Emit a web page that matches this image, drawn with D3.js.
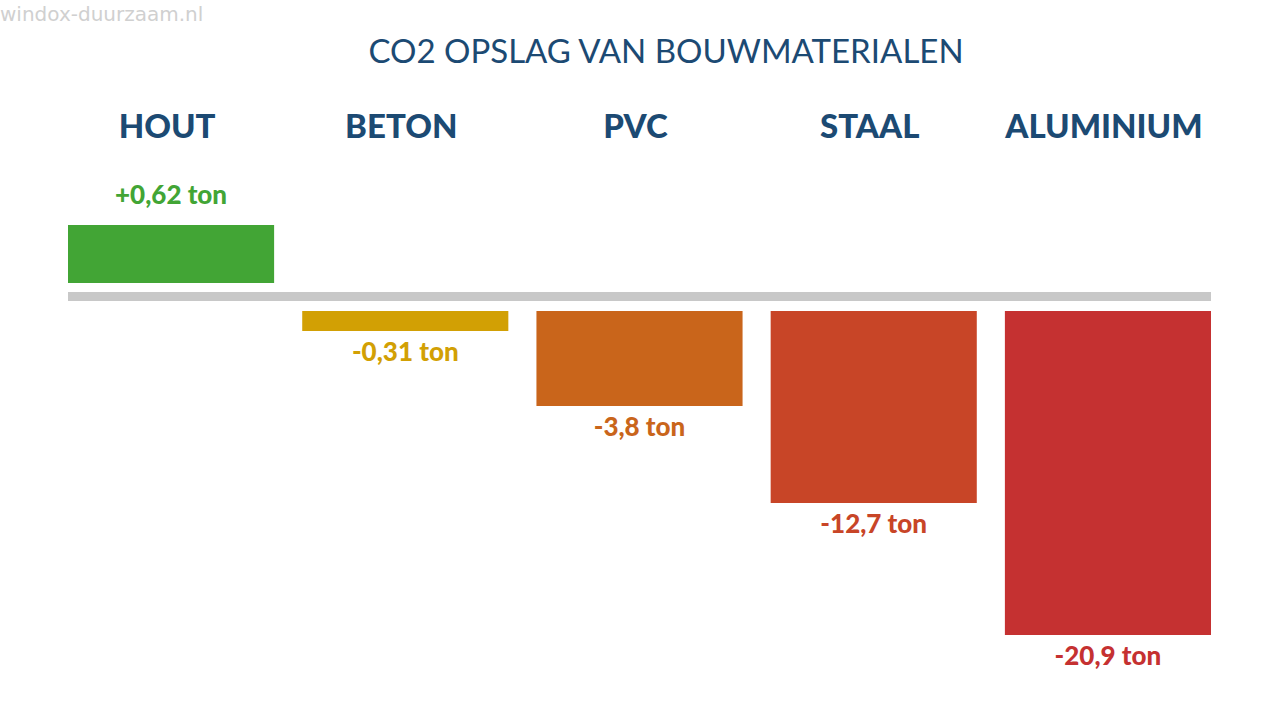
<!DOCTYPE html>
<html>
<head>
<meta charset="utf-8">
<script src="https://cdn.jsdelivr.net/npm/d3@7"></script>
<style>
  html, body { margin: 0; padding: 0; background: #fff; }
  svg { display: block; }
</style>
</head>
<body>
<svg id="chart" width="1280" height="720"></svg>
<script>
const categories = ["HOUT", "BETON", "PVC", "STAAL", "ALUMINIUM"];
const values = [0.62, -0.31, -3.8, -12.7, -20.9];
const valueLabels = ["+0,62 ton", "-0,31 ton", "-3,8 ton", "-12,7 ton", "-20,9 ton"];
const colors = ["#42a535", "#d2a004", "#c9651b", "#c84527", "#c53131"];
const title = "CO2 OPSLAG VAN BOUWMATERIALEN";
const watermark = "windox-duurzaam.nl";

const svg = d3.select("#chart");
const navy = "#1c4a73";

// Infographic uses a non-proportional (piecewise) magnitude scale
const mag = d3.scaleLinear()
  .domain([0, 0.31, 0.62, 3.8, 12.7, 20.9])
  .range([0, 20, 58, 95, 192, 324]);

const x = d3.scaleBand()
  .domain(categories)
  .range([68, 1211])
  .paddingInner(0.12)
  .paddingOuter(0);

const axisTop = 292, axisH = 9;
const posBase = 283, negBase = 311;

svg.append("text")
  .attr("x", 0).attr("y", 21)
  .attr("font-family", "DejaVu Sans, sans-serif")
  .attr("font-size", 20)
  .attr("fill", "#d0d0d0")
  .text(watermark);

svg.append("text")
  .attr("x", 666).attr("y", 63)
  .attr("text-anchor", "middle")
  .attr("font-family", "Lato, sans-serif")
  .attr("font-size", 33)
  .attr("fill", navy)
  .text(title);

svg.selectAll("text.cat")
  .data(categories)
  .join("text")
  .attr("class", "cat")
  .attr("x", d => x(d) + x.bandwidth() / 2 - 4)
  .attr("y", 138)
  .attr("text-anchor", "middle")
  .attr("font-family", "Lato, sans-serif")
  .attr("font-weight", 900)
  .attr("font-size", 33)
  .attr("fill", navy)
  .text(d => d);

svg.append("rect")
  .attr("x", x.range()[0])
  .attr("y", axisTop)
  .attr("width", x.range()[1] - x.range()[0])
  .attr("height", axisH)
  .attr("fill", "#c8c8c8");

const data = categories.map((c, i) => ({ c, v: values[i], label: valueLabels[i], color: colors[i] }));

svg.selectAll("rect.bar")
  .data(data)
  .join("rect")
  .attr("class", "bar")
  .attr("x", d => x(d.c))
  .attr("width", x.bandwidth())
  .attr("y", d => d.v >= 0 ? posBase - mag(d.v) : negBase)
  .attr("height", d => mag(Math.abs(d.v)))
  .attr("fill", d => d.color);

svg.selectAll("text.val")
  .data(data)
  .join("text")
  .attr("class", "val")
  .attr("x", d => x(d.c) + x.bandwidth() / 2)
  .attr("y", d => d.v >= 0 ? posBase - mag(d.v) - 21 : negBase + mag(Math.abs(d.v)) + 30)
  .attr("text-anchor", "middle")
  .attr("font-family", "Lato, sans-serif")
  .attr("font-weight", 900)
  .attr("font-size", 26)
  .attr("fill", d => d.color)
  .text(d => d.label);
</script>
</body>
</html>
